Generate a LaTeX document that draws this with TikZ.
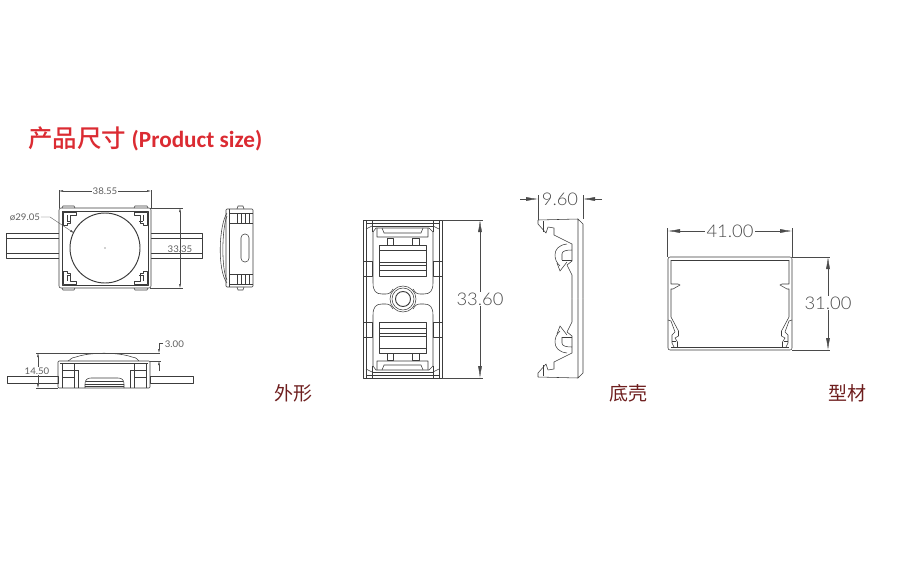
\documentclass[tikz,border=0pt]{standalone}
\usepackage{fontspec}
\setmainfont{Carlito}
\newfontfamily\cjk{Noto Sans CJK SC}
\newfontfamily\cjkmid[UprightFont=* Medium]{Noto Sans CJK SC}
\newfontfamily\cad[UprightFont=* Light,FakeStretch=1.05]{Lato}
\newfontfamily\cadsmall[FakeStretch=1.05]{Lato}
\usetikzlibrary{arrows.meta}
\definecolor{titlered}{HTML}{DB2B32}
\definecolor{labelred}{HTML}{6E1E1E}
\definecolor{cadline}{HTML}{3C3C3C}
\definecolor{dimgray}{HTML}{4A4A4A}
\definecolor{smallgray}{HTML}{606060}

\begin{document}
\begin{tikzpicture}
    [x=1pt,y=-1pt,
    part/.style={draw=cadline,line width=0.55pt,line join=round},
    heavy/.style={draw=cadline,line width=0.95pt},
    dimline/.style={draw=dimgray,line width=0.4pt},
    smalldim/.style={dimline,{Latex[length=4pt,width=2pt]}-{Latex[length=4pt,width=2pt]}},
    bigdim/.style={dimline,{Latex[length=12pt,width=4pt]}-{Latex[length=12pt,width=4pt]}},
    bigtip/.style={dimline,-{Latex[length=12pt,width=4pt]}},
    smalltext/.style={text=smallgray,fill=white,inner sep=0.6pt,font=\cadsmall\fontsize{9.2}{10}\selectfont},
    bigtext/.style={text=dimgray,fill=white,inner sep=1pt,font=\cad\fontsize{17.5}{18}\selectfont},
    viewname/.style={text=labelred,inner sep=0pt,font=\cjk\fontsize{19}{22}\selectfont}]
    \useasboundingbox (0,0) rectangle (910,578);
    \node[text=titlered,anchor=west,inner sep=0pt,font=\fontsize{24.5}{28}\selectfont] (title) at (28,139)
        {{\cjkmid 产品尺寸} \bfseries\fontsize{23.2}{26}\selectfont(Product size)};

    % top view
    \draw[part,fill=white] (6,233) rectangle (202,258);
    \draw[part] (6,238) -- (202,238) (6,253) -- (202,253);
    \draw[part,fill=white,rounded corners=2pt] (59,208) rectangle (151,288);
    \draw[part] (62,211) rectangle (148,285);
    \draw[part] (62,208) -- (63,206) -- (74,206) -- (75,208)
        (134,208) -- (135,206) -- (147,206) -- (148,208)
        (62,288) -- (63,290) -- (74,290) -- (75,288)
        (134,288) -- (135,290) -- (147,290) -- (148,288);
    \foreach \sx/\sy in {1/1,-1/1,1/-1,-1/-1} {
        \begin{scope}[shift={(105,248)},xscale=\sx,yscale=\sy]
            \draw[part] (-42,-36) -- (-29,-36) -- (-29,-33) -- (-35,-33) -- (-35,-25) -- (-38,-25)
                -- (-38,-23) -- (-42,-23) -- cycle;
            \draw[heavy] (-38,-33) -- (-38,-27) (-38,-27) -- (-34,-27);
        \end{scope}
    }
    \draw[heavy,fill=white] (105,248) circle (35);
    \fill[cadline] (105,248) circle (0.7);
    \draw[dimline] (59,190) -- (59,208) (151,190) -- (151,208) (150,208) -- (183,208) (150,288) -- (183,288);
    \draw[smalldim] (59,191) -- (151,191);
    \node[smalltext] (wide) at (105,191) {38.55};
    \draw[smalldim] (180,208) -- (180,288);
    \node[smalltext,fill=none] (high) at (180,249) {33.35};
    \node[smalltext] (lens) at (25,217) {ø29.05};
    \draw[dimline,-{Latex[length=4pt,width=2pt]}] (lens.east) -- (50,217) -- (74,233);

    % side view
    \draw[part] (227,213) .. controls (219,225) and (217,270) .. (227,283);
    \draw[part] (227,216) .. controls (222,228) and (221,268) .. (227,280);
    \draw[part,rounded corners=1pt] (226,209) rectangle (253,287);
    \draw[part] (229,209) -- (229,287);
    \draw[part] (237,209) -- (238,206) -- (243,206) -- (244,209)
        (237,287) -- (238,290) -- (243,290) -- (244,287);
    \draw[part] (229,213) -- (253,213) (229,223) -- (253,223) (237,213) -- (237,223)
        (241,213) -- (241,223) (245,213) -- (245,223) (249,213) -- (249,223);
    \draw[part] (229,274) -- (253,274) (229,284) -- (253,284) (237,274) -- (237,284)
        (241,274) -- (241,284) (245,274) -- (245,284) (249,274) -- (249,284);
    \draw[part,rounded corners=3.8pt] (241,234) rectangle (249,262);

    % front view
    \draw[part] (7,376) rectangle (58,383) (150,376) rectangle (193,383);
    \draw[part] (68,361) .. controls (72,359) and (70,358) .. (76,357)
        .. controls (90,352) and (118,352) .. (132,357)
        .. controls (138,358) and (136,359) .. (139,361);
    \draw[part,rounded corners=1pt] (58,388) -- (58,361) -- (150,361) -- (150,388) -- cycle;
    \draw[part] (60,363) -- (148,363);
    \draw[part] (62,363) -- (62,388) (74,363) -- (74,388) (78,370) -- (78,388) (74,370) -- (78,370)
        (62,370) -- (74,370) (62,377) -- (74,377);
    \draw[part] (146,363) -- (146,388) (134,363) -- (134,388) (130,370) -- (130,388) (130,370) -- (134,370)
        (134,370) -- (146,370) (134,377) -- (146,377);
    \draw[part] (85,388) -- (85,384) .. controls (85,380) and (87,378) .. (91,378) -- (118,378)
        .. controls (122,378) and (124,380) .. (124,384) -- (124,388);
    \draw[part] (86,381) -- (123,381) (85,384) -- (124,384) (85,386) -- (124,386);
    \draw[dimline] (36,353) -- (160,353) (36,388) -- (58,388) (150,361) -- (161,361);
    \draw[smalldim] (38,353) -- (38,388);
    \node[smalltext] (thick) at (37,371) {14.50};
    \coordinate (gaptop) at (159,353);
    \coordinate (gapbot) at (159,361);
    \draw[dimline,-{Latex[length=4pt,width=2pt]}] (163,343) -- (159,343) -- (gaptop);
    \draw[dimline,-{Latex[length=4pt,width=2pt]}] (159,371) -- (gapbot);
    \node[smalltext,anchor=west] (gap) at (164,344) {3.00};

    % base, inside
    \draw[part] (363,220) rectangle (442,378);
    \draw[part] (366,220) -- (366,378) (439,220) -- (439,378);
    \foreach \flip in {0,1} {
        \begin{scope}[shift={(0,598*\flip)},yscale={1-2*\flip}]
            \draw[part] (372,220) -- (372,232) (433,220) -- (433,232);
            \draw[part] (366,223) -- (439,223) (372,226) -- (433,226);
            \draw[part] (366,229) -- (372,226) (439,229) -- (433,226);
            \draw[part] (373,232) -- (373,283) .. controls (373,291) and (376,294) .. (382,294)
                -- (386,294) .. controls (390,294) and (391,292) .. (393,289);
            \draw[part] (433,232) -- (433,283) .. controls (433,291) and (430,294) .. (424,294)
                -- (420,294) .. controls (416,294) and (415,292) .. (413,289);
            \draw[part] (373,232) -- (376,228) -- (429,228) -- (433,232);
            \draw[part] (377,228) -- (377,237) -- (428,237) -- (428,228) (382,228) -- (384,233) -- (421,233) -- (423,228);
            \draw[part] (387,238) rectangle (393,245) (412,238) rectangle (419,245);
            \draw[part] (379,245) rectangle (426,276);
            \draw[heavy] (379,250) -- (426,250);
            \draw[part] (379,262) -- (426,262) (379,265) -- (426,265) (379,270) -- (426,270);
            \draw[part] (363,261) rectangle (372,276) (433,261) rectangle (442,276);
        \end{scope}
    }
    \draw[part] (403,299) circle (13) (403,299) circle (11);
    \draw[heavy] (403,299) circle (7.5);
    \draw[dimline] (442,220) -- (483,220) (442,378) -- (483,378);
    \draw[bigdim] (480,220) -- (480,378);
    \node[bigtext] (baselen) at (480,299) {33.60};

    % base, section
    \foreach \flip in {0,1} {
        \begin{scope}[shift={(0,597*\flip)},yscale={1-2*\flip}]
            \draw[part] (538,220) -- (578,219) -- (583,224) -- (583,298.5) (578,219) -- (578,298.5);
            \draw[part] (538,220) -- (538,224) -- (546,233) -- (548,227) -- (554,228) -- (554,235)
                -- (572,244) -- (572,261) -- (567,265) -- (572,275) -- (572,298.5);
            \draw[part] (543,221) -- (543,232);
            \draw[part] (567,244) .. controls (558,245) and (555,250) .. (555,255)
                .. controls (555,260) and (557,263) .. (560,266);
            \draw[part] (557,263) -- (560,271) -- (567,262);
            \draw[part] (562,260) -- (562,254) .. controls (562,251) and (566,250) .. (572,250);
            \draw[part] (562,260) -- (572,260);
        \end{scope}
    }
    \coordinate (secleft) at (538,199);
    \coordinate (secright) at (583,199);
    \draw[dimline] (538,195) -- (538,220) (583,195) -- (583,219);
    \draw[bigtip] (520,199) -- (secleft);
    \draw[bigtip] (602,199) -- (secright);
    \node[bigtext,fill=none] (depth) at (560,199) {9.60};

    % extrusion
    \draw[part,rounded corners=2pt] (668,257) rectangle (792,350);
    \draw[part,rounded corners=1pt] (671,260) -- (789,260);
    \draw[part,rounded corners=1pt] (671,347) -- (789,347);
    \foreach \flip in {0,1} {
        \begin{scope}[shift={(1460*\flip,0)},xscale={1-2*\flip}]
            \draw[part] (671,260) -- (671,284) -- (678,284) -- (680,285) -- (673,289) -- (671,289)
                -- (671,317) -- (678.5,331) -- (678.5,336) -- (675,338) -- (677.5,342) -- (677.5,347);
            \draw[part] (668,320) -- (671,321) -- (675,332) -- (672,335) -- (672,343) -- (674,347);
            \draw[part] (672,341) -- (676,341);
        \end{scope}
    }
    \draw[dimline] (667.5,228) -- (667.5,257) (792,228) -- (792,257) (792,257) -- (830,257) (792,350) -- (830,350);
    \draw[bigdim] (668,231) -- (792,231);
    \node[bigtext,inner xsep=2pt] (tubewide) at (730,231) {41.00};
    \draw[bigdim] (828,257) -- (828,350);
    \node[bigtext,inner ysep=1pt] (tubehigh) at (828,303) {31.00};

    \node[viewname] (outer) at (293,393) {外形};
    \node[viewname] (shell) at (628,393) {底壳};
    \node[viewname] (tube) at (847,393) {型材};
\end{tikzpicture}
\end{document}
